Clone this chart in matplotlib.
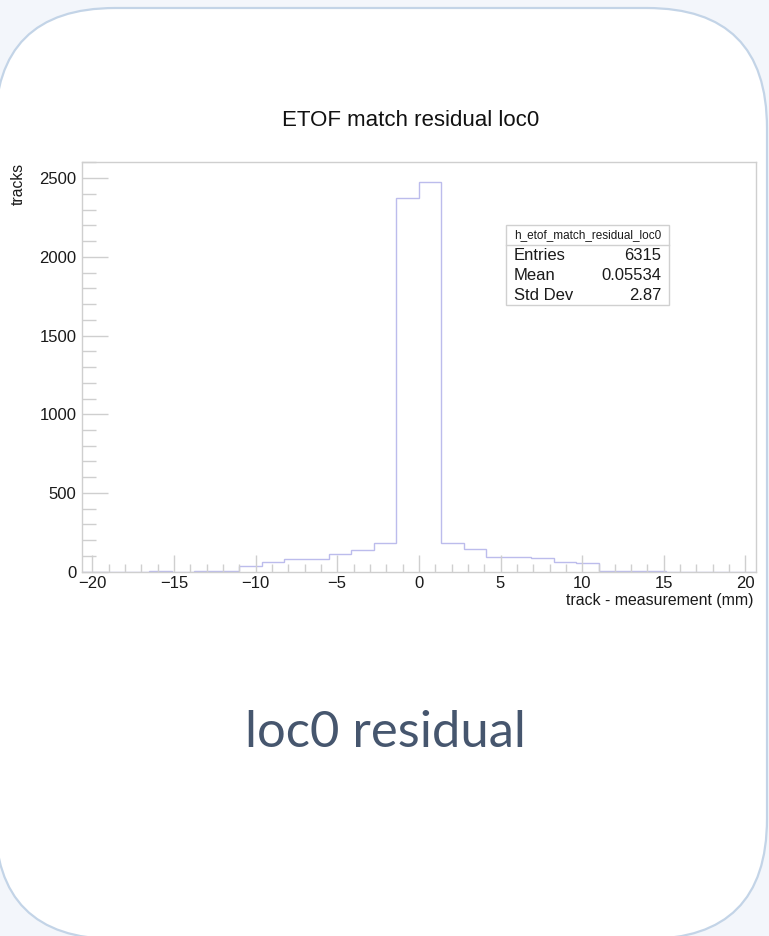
import numpy as np
import matplotlib
matplotlib.use("Agg")
import matplotlib.pyplot as plt
from matplotlib.patches import FancyBboxPatch, Rectangle
from matplotlib.ticker import MultipleLocator

# ---------------- data ----------------
BIN_LO = -20.625
BIN_HI = 20.625
counts = [0, 0, 0, 2, 0, 2, 2, 36, 59, 78, 82, 115, 136, 180, 2373,
          2474, 180, 141, 95, 95, 87, 59, 53, 2, 2, 2, 0, 0, 0, 0]
x_ticks = [-20, -15, -10, -5, 0, 5, 10, 15, 20]
y_ticks = [0, 500, 1000, 1500, 2000, 2500]
title = "ETOF match residual loc0"
xlabel = "track - measurement (mm)"
ylabel = "tracks"
stats_name = "h_etof_match_residual_loc0"
stats_rows = [("Entries", "6315"), ("Mean", "0.05534"), ("Std Dev", "2.87")]
caption = "loc0 residual"

W, H = 769, 936
FONT = ["Liberation Sans", "DejaVu Sans"]
plt.rcParams["font.family"] = FONT

fig = plt.figure(figsize=(W / 100, H / 100), dpi=100)
fig.patch.set_facecolor("#f3f6fb")

# background card in pixel coordinates
bg = fig.add_axes([0, 0, 1, 1], zorder=0)
bg.set_xlim(0, W)
bg.set_ylim(H, 0)
bg.axis("off")
card = FancyBboxPatch((-5, 8), 772, 931, boxstyle="round,pad=0,rounding_size=120",
                      facecolor="white", edgecolor="#c3d4e7", linewidth=1.6)
bg.add_patch(card)

# plot frame
left, right, top, bottom = 82, 755.7, 162.3, 571.7
ax = fig.add_axes([left / W, 1 - bottom / H, (right - left) / W, (bottom - top) / H], zorder=2)
ax.patch.set_alpha(0)
edges = np.linspace(BIN_LO, BIN_HI, len(counts) + 1)
ax.stairs(counts, edges, color="#bcbcec", linewidth=1.0, zorder=1)
ax.set_xlim(BIN_LO, BIN_HI)
ax.set_ylim(0, max(counts) * 1.051)
ax.set_xticks(x_ticks)
ax.set_yticks(y_ticks)
ax.xaxis.set_minor_locator(MultipleLocator(1))
ax.yaxis.set_minor_locator(MultipleLocator(100))
for s in ax.spines.values():
    s.set_color("#cfcfcf")
    s.set_linewidth(1.0)
    s.set_zorder(3)
ax.tick_params(axis="both", which="both", direction="in", color="#cfcfcf",
               labelcolor="#1a1a1a", labelsize=12, width=1.0)
ax.tick_params(axis="x", which="major", length=12, pad=3)
ax.tick_params(axis="x", which="minor", length=6)
ax.tick_params(axis="y", which="major", length=19, pad=4)
ax.tick_params(axis="y", which="minor", length=10)

# overlay for texts / stats box (pixel coordinates)
ov = fig.add_axes([0, 0, 1, 1], zorder=5)
ov.set_xlim(0, W)
ov.set_ylim(H, 0)
ov.axis("off")
ov.patch.set_alpha(0)

ov.text(411, 120, title, ha="center", va="center", fontsize=16, color="#111111")
ov.text(753, 601, xlabel, ha="right", va="center", fontsize=11.4, color="#1a1a1a")
ov.text(18, 163, ylabel, ha="center", va="top", rotation=90, fontsize=11.3, color="#1a1a1a")

sx0, sx1, sy0, sy1, syh = 506, 669, 224.7, 305.3, 245
ov.add_patch(Rectangle((sx0, sy0), sx1 - sx0, sy1 - sy0, facecolor="white",
                       edgecolor="#d0d0d0", linewidth=1.0))
ov.plot([sx0, sx1], [syh, syh], color="#d0d0d0", linewidth=1.0)
ov.text((sx0 + sx1) / 2, (sy0 + syh) / 2 + 0.5, stats_name, ha="center", va="center",
        fontsize=8.5, color="#1a1a1a")
for i, (k, v) in enumerate(stats_rows):
    yy = 256 + i * 19.9
    ov.text(514, yy, k, ha="left", va="center", fontsize=12, color="#1a1a1a")
    ov.text(661, yy, v, ha="right", va="center", fontsize=12, color="#1a1a1a")

ov.text(385, 747, caption, ha="center", va="baseline", fontsize=36.5,
        color="#46566e", family=["Lato", "DejaVu Sans"], fontweight="normal")

fig.savefig("out.png", dpi=100, facecolor=fig.get_facecolor())
